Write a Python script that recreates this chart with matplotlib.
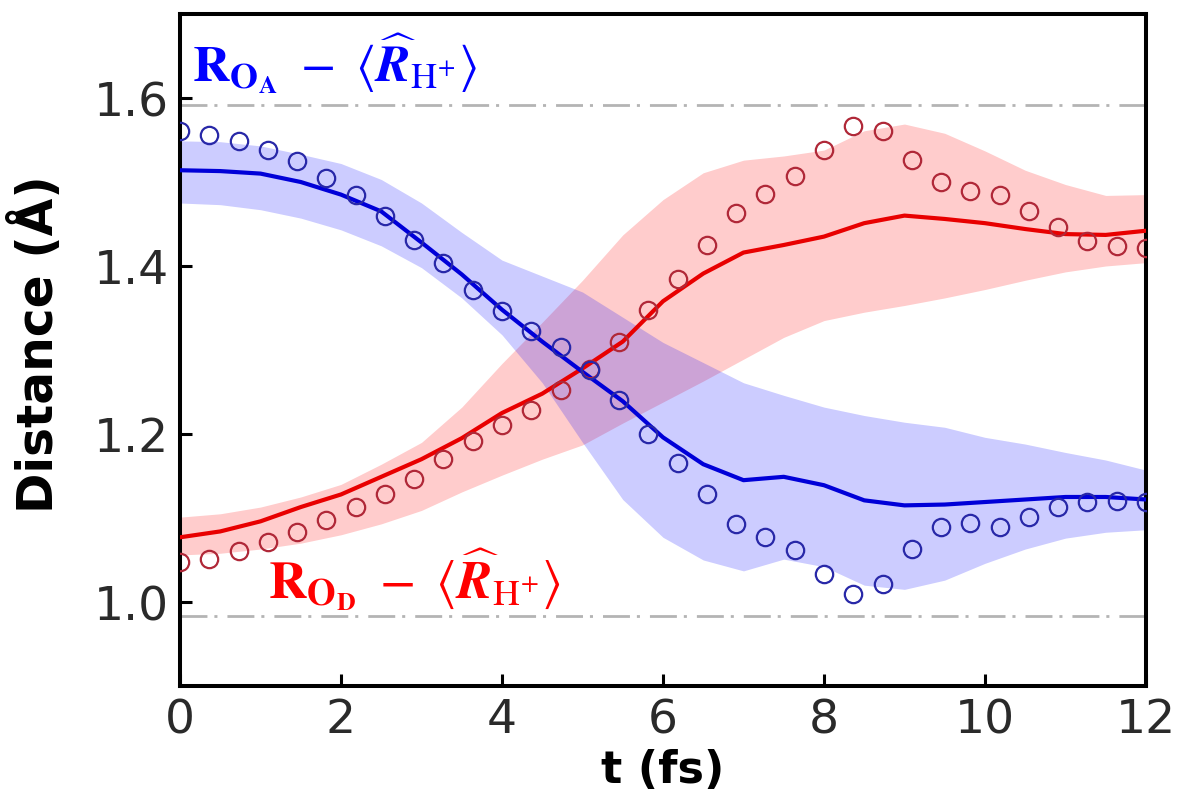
import numpy as np
import matplotlib
matplotlib.use('Agg')
import matplotlib.pyplot as plt

plt.rcParams['mathtext.fontset'] = 'stix'

# time grid for the mean curves and the spread bands
t_band = np.arange(0, 12.01, 0.5)

# R_OA - <R_H+> : mean, band top, band bottom
blue_mean = [1.514, 1.513, 1.510, 1.500, 1.485, 1.465, 1.428, 1.390, 1.348, 1.310,
             1.274, 1.239, 1.196, 1.164, 1.145, 1.149, 1.139, 1.121, 1.115, 1.116,
             1.119, 1.122, 1.125, 1.125, 1.122]
blue_hi = [1.549, 1.548, 1.543, 1.533, 1.522, 1.503, 1.475, 1.440, 1.407, 1.388,
           1.369, 1.339, 1.309, 1.285, 1.261, 1.246, 1.232, 1.222, 1.214, 1.208,
           1.196, 1.188, 1.178, 1.169, 1.157]
blue_lo = [1.475, 1.473, 1.467, 1.457, 1.443, 1.424, 1.398, 1.362, 1.318, 1.261,
           1.190, 1.122, 1.077, 1.050, 1.037, 1.051, 1.042, 1.020, 1.015, 1.026,
           1.046, 1.063, 1.076, 1.083, 1.086]

# R_OD - <R_H+> : mean, band top, band bottom
red_mean = [1.077, 1.084, 1.096, 1.113, 1.128, 1.149, 1.170, 1.195, 1.225, 1.248,
            1.278, 1.310, 1.358, 1.391, 1.416, 1.425, 1.435, 1.451, 1.460, 1.456,
            1.451, 1.444, 1.438, 1.437, 1.442]
red_hi = [1.101, 1.105, 1.113, 1.125, 1.140, 1.164, 1.190, 1.232, 1.284, 1.333,
          1.383, 1.437, 1.479, 1.511, 1.526, 1.531, 1.538, 1.561, 1.569, 1.558,
          1.537, 1.514, 1.497, 1.484, 1.485]
red_lo = [1.056, 1.058, 1.063, 1.070, 1.080, 1.093, 1.109, 1.131, 1.151, 1.170,
          1.187, 1.213, 1.238, 1.263, 1.289, 1.315, 1.335, 1.345, 1.353, 1.362,
          1.372, 1.383, 1.393, 1.400, 1.404]

# circles (reference values)
t_pts = np.linspace(0, 12, 34)
blue_pts = [1.561, 1.556, 1.549, 1.538, 1.525, 1.505, 1.484, 1.460, 1.431, 1.404,
            1.372, 1.347, 1.323, 1.303, 1.276, 1.240, 1.200, 1.166, 1.128, 1.093,
            1.077, 1.062, 1.033, 1.010, 1.021, 1.063, 1.089, 1.094, 1.089, 1.101,
            1.113, 1.119, 1.120, 1.119]
red_pts = [1.048, 1.051, 1.061, 1.071, 1.083, 1.097, 1.113, 1.128, 1.147, 1.170,
           1.192, 1.211, 1.229, 1.252, 1.277, 1.309, 1.348, 1.384, 1.425, 1.463,
           1.486, 1.507, 1.538, 1.567, 1.561, 1.526, 1.500, 1.489, 1.485, 1.466,
           1.446, 1.430, 1.424, 1.422]

ref_levels = [1.592, 0.983]

fig = plt.figure(figsize=(11.82, 8.03), dpi=100)
ax = fig.add_axes([0.1523, 0.1445, 0.8172, 0.8368])

for yl in ref_levels:
    ax.axhline(yl, color='#b4b4b4', lw=2, ls=(0, (9.7, 2.5, 1.1, 3.6)), zorder=1)

ax.fill_between(t_band, red_lo, red_hi, color='red', alpha=0.2, lw=0, zorder=2)
ax.fill_between(t_band, blue_lo, blue_hi, color='blue', alpha=0.2, lw=0, zorder=2)
ax.plot(t_band, red_mean, color='#e80000', lw=3, zorder=3)
ax.plot(t_band, blue_mean, color='#0000d8', lw=3, zorder=3)
ax.plot(t_pts, red_pts, 'o', mfc='none', mec='#b02838', ms=12.5, mew=1.6, zorder=4)
ax.plot(t_pts, blue_pts, 'o', mfc='none', mec='#2828a8', ms=12.5, mew=1.6, zorder=4)

lab_a = r'$\mathbf{R}_{\mathbf{O}_{\mathbf{A}}}\ -\ \langle\widehat{\mathbfit{R}}_{\mathrm{H}^{+}}\rangle$'
lab_d = r'$\mathbf{R}_{\mathbf{O}_{\mathbf{D}}}\ -\ \langle\widehat{\mathbfit{R}}_{\mathrm{H}^{+}}\rangle$'
ax.text(0.15, 1.642, lab_a, color='blue', fontsize=37, va='center', ha='left', zorder=5)
ax.text(1.09, 1.028, lab_d, color='red', fontsize=38, va='center', ha='left', zorder=5)

ax.set_xlim(0, 12)
ax.set_ylim(0.9, 1.7)
ax.set_xticks([0, 2, 4, 6, 8, 10, 12])
ax.set_yticks([1.0, 1.2, 1.4, 1.6])
ax.tick_params(direction='in', length=8.5, width=2.2, labelsize=34,
               labelcolor='#2a2a2a', pad=8, top=False, right=False)
for s in ax.spines.values():
    s.set_linewidth(2.9)

ax.set_xlabel('t (fs)', fontsize=32, fontweight='bold', va='top')
ax.xaxis.set_label_coords(0.5, -0.092)
ax.set_ylabel('Distance (Å)', fontsize=35, fontweight='bold')
ax.yaxis.set_label_coords(-0.121, 0.51)

fig.savefig('out.png', dpi=100)
